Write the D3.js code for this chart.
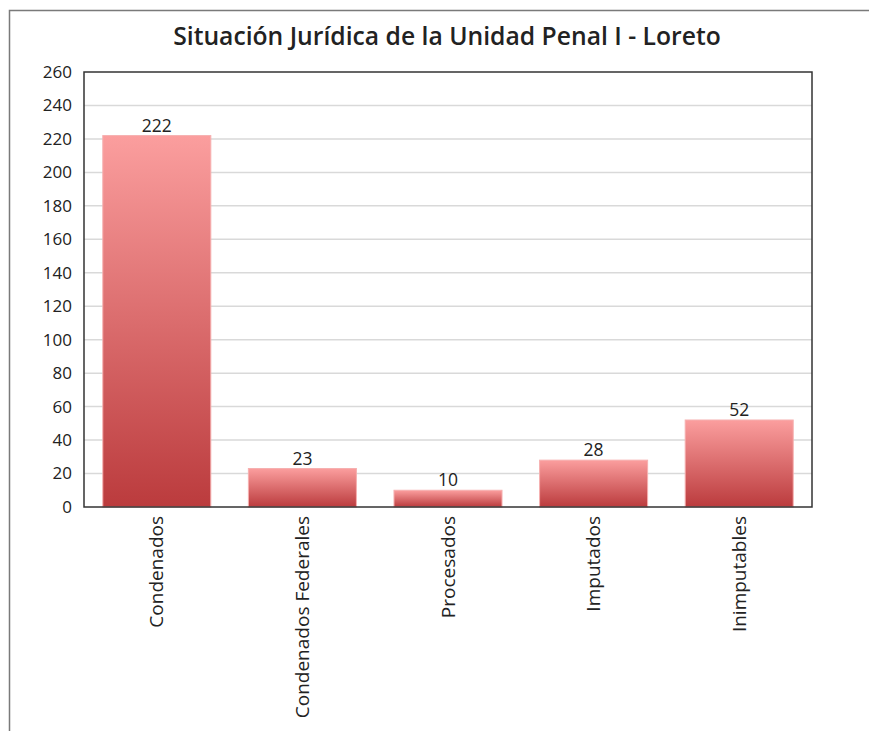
<!DOCTYPE html>
<html>
<head>
<meta charset="utf-8">
<script src="https://cdn.jsdelivr.net/npm/d3@7"></script>
<style>
  body { margin: 0; background: #fff; }
  text { font-family: "Open Sans", sans-serif; }
</style>
</head>
<body>
<svg id="chart" width="869" height="731"></svg>
<script>
// data
const title = "Situación Jurídica de la Unidad Penal I - Loreto";
const categories = ["Condenados", "Condenados Federales", "Procesados", "Imputados", "Inimputables"];
const values = [222, 23, 10, 28, 52];
const yTicks = [0, 20, 40, 60, 80, 100, 120, 140, 160, 180, 200, 220, 240, 260];

const svg = d3.select("#chart");
const mar = { left: 84, top: 72, right: 812, bottom: 507 };

// outer frame (top and left only)
svg.append("path")
    .attr("d", "M9.5,731 L9.5,10.5 L869,10.5")
    .attr("fill", "none")
    .attr("stroke", "#7a7a7a")
    .attr("stroke-width", 1.5);

// title
svg.append("text")
    .attr("x", 447)
    .attr("y", 45)
    .attr("text-anchor", "middle")
    .attr("font-size", 24.7)
    .attr("font-weight", 600)
    .attr("fill", "#222")
    .text(title);

var scaleX = d3.scaleBand()
    .domain(categories)
    .range([mar.left, mar.right])
    .paddingInner(0.258)
    .paddingOuter(0.129);

var scaleY = d3.scaleLinear()
    .domain([0, 260])
    .range([mar.bottom, mar.top]);

// gradient for each bar
const defs = svg.append("defs");
const grad = defs.append("linearGradient")
    .attr("id", "barGrad")
    .attr("x1", 0).attr("y1", 0).attr("x2", 0).attr("y2", 1);
grad.append("stop").attr("offset", "0%").attr("stop-color", "#fb9e9e");
grad.append("stop").attr("offset", "100%").attr("stop-color", "#bb3b3d");

// gridlines
svg.append("g")
    .selectAll("line")
    .data(yTicks.slice(1, -1))
    .join("line")
    .attr("x1", mar.left)
    .attr("x2", mar.right)
    .attr("y1", d => scaleY(d))
    .attr("y2", d => scaleY(d))
    .attr("stroke", "#d9d9d9")
    .attr("stroke-width", 1.5);

// y axis labels
svg.append("g")
    .attr("transform", `translate(${mar.left},0)`)
    .call(d3.axisLeft(scaleY).tickValues(yTicks).tickSize(0).tickPadding(12))
    .call(g => g.select(".domain").remove())
    .selectAll("text")
    .attr("font-size", 17)
    .attr("fill", "#222")
    .style("font-family", "'Open Sans', sans-serif");

// bars
svg.append("g")
    .selectAll("rect")
    .data(values)
    .join("rect")
    .attr("x", (d, i) => scaleX(categories[i]))
    .attr("y", d => scaleY(d))
    .attr("width", scaleX.bandwidth())
    .attr("height", d => scaleY(0) - scaleY(d))
    .attr("fill", "url(#barGrad)")
    .attr("stroke", "#f6b0b0")
    .attr("stroke-width", 1);

// value labels
svg.append("g")
    .selectAll("text")
    .data(values)
    .join("text")
    .attr("x", (d, i) => scaleX(categories[i]) + scaleX.bandwidth() / 2)
    .attr("y", d => scaleY(d) - 4)
    .attr("text-anchor", "middle")
    .attr("font-size", 17.5)
    .attr("fill", "#222")
    .text(d => d);

// plot frame
svg.append("rect")
    .attr("x", mar.left)
    .attr("y", mar.top)
    .attr("width", mar.right - mar.left)
    .attr("height", mar.bottom - mar.top)
    .attr("fill", "none")
    .attr("stroke", "#333")
    .attr("stroke-width", 1.5);

// x axis labels, rotated
svg.append("g")
    .attr("transform", `translate(0,${mar.bottom})`)
    .call(d3.axisBottom(scaleX).tickSize(0))
    .call(g => g.select(".domain").remove())
    .selectAll("text")
    .attr("transform", "rotate(-90)")
    .attr("text-anchor", "end")
    .attr("x", -9)
    .attr("y", 0)
    .attr("dy", "0.35em")
    .attr("font-size", 19)
    .attr("fill", "#222")
    .style("font-family", "'Open Sans', sans-serif");
</script>
</body>
</html>
